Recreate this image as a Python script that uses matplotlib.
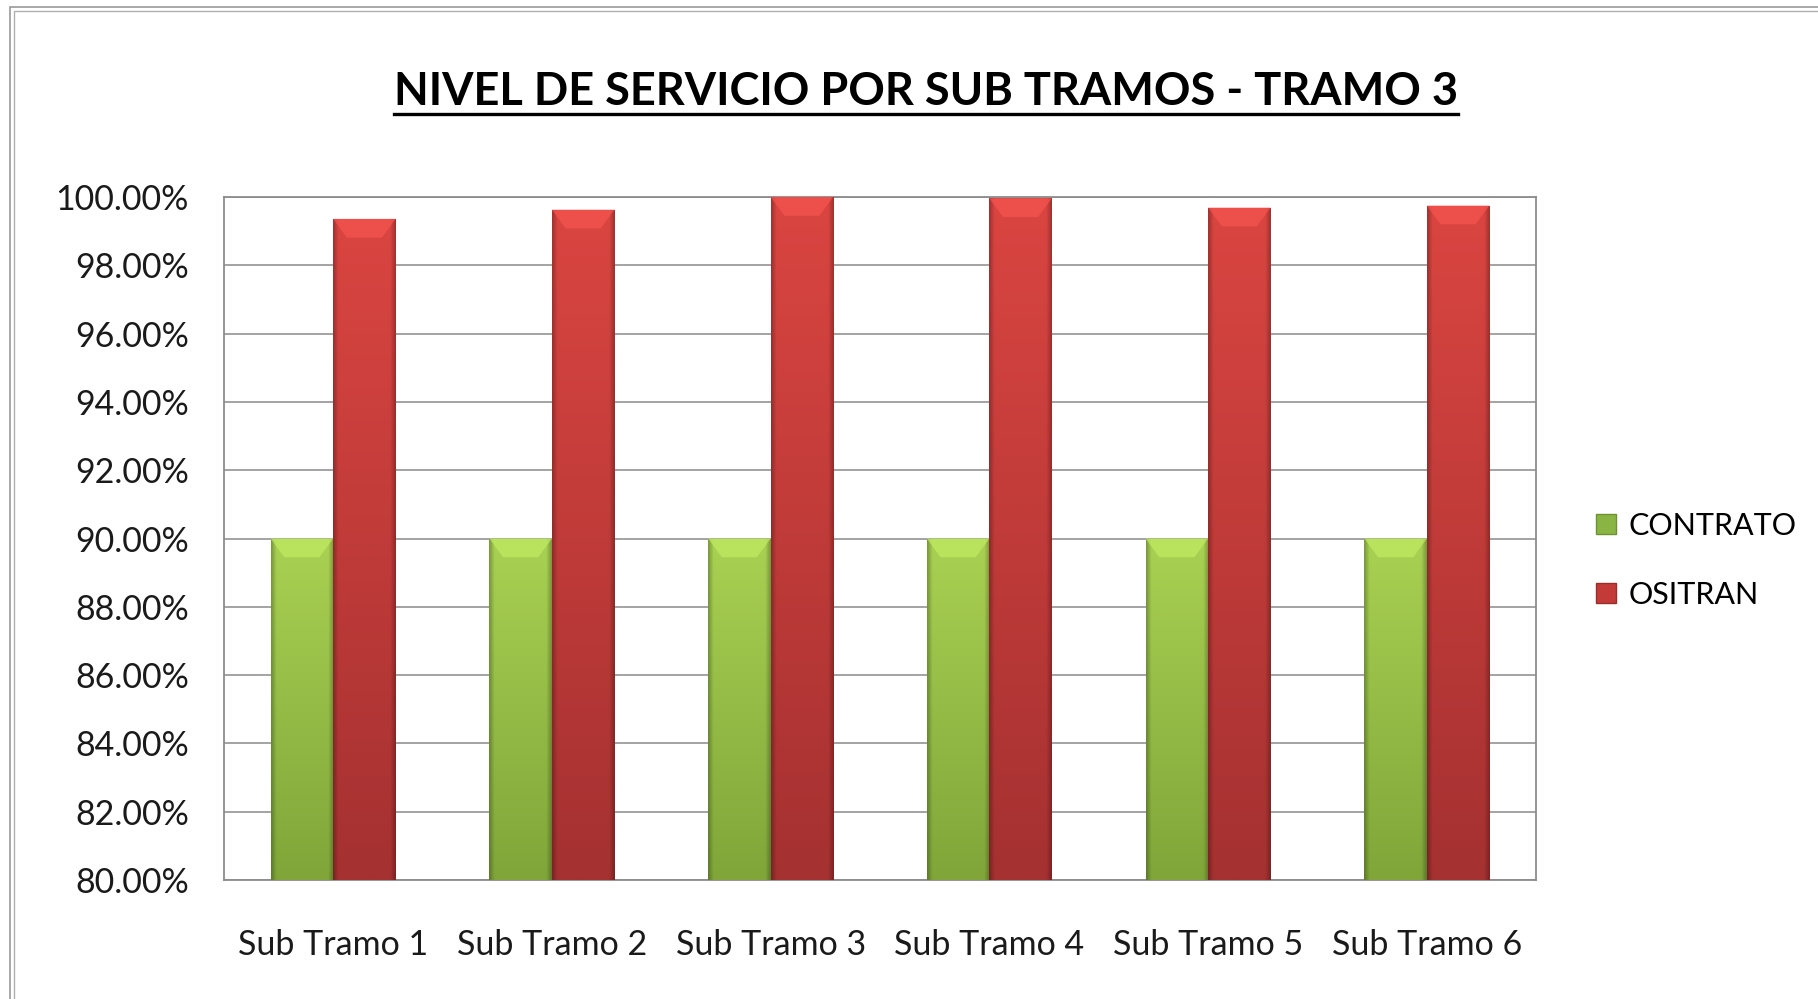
import numpy as np
import matplotlib
matplotlib.use('Agg')
import matplotlib.pyplot as plt
from matplotlib.patches import Rectangle, Polygon
from matplotlib.lines import Line2D
from matplotlib.colors import to_rgb
from matplotlib.ticker import FuncFormatter

# datos
categorias = ['Sub Tramo 1', 'Sub Tramo 2', 'Sub Tramo 3', 'Sub Tramo 4', 'Sub Tramo 5', 'Sub Tramo 6']
contrato = [0.90, 0.90, 0.90, 0.90, 0.90, 0.90]
ositran = [0.9936, 0.9963, 1.0000, 0.9996, 0.9969, 0.9975]
y_ticks = [0.80, 0.82, 0.84, 0.86, 0.88, 0.90, 0.92, 0.94, 0.96, 0.98, 1.00]

plt.rcParams['font.family'] = ['Lato', 'DejaVu Sans']

fig = plt.figure(figsize=(18.18, 9.99), dpi=100)
ax = fig.add_axes([0.1231, 0.1191, 0.7219, 0.6837])

ymin, ymax = 0.80, 1.00
w = 1 / 3.5
x = np.arange(len(categorias))

verde_top, verde_bot = '#a9d152', '#80a63a'
rojo_top, rojo_bot = '#da4541', '#a53131'

b1 = ax.bar(x - w/2, contrato, w, color=verde_top, zorder=2)
b2 = ax.bar(x + w/2, ositran, w, color=rojo_top, zorder=2)


def sombrear(bars, ctop, cbot):
    ct = np.array(to_rgb(ctop))
    cb = np.array(to_rgb(cbot))
    for p in bars:
        x0, w0, h = p.get_x(), p.get_width(), p.get_height()
        top = h
        t = np.linspace(0, 1, 60)[:, None]          # vertical (0=arriba)
        s = np.linspace(0, 1, 40)[None, :]          # horizontal
        col = ct[None, None, :] * (1 - t[..., None]) + cb[None, None, :] * t[..., None]
        edge = np.clip(np.minimum(s, 1 - s) / 0.08, 0, 1)
        fac = 0.75 + 0.25 * edge
        img = np.clip(col * fac[..., None], 0, 1)
        im = ax.imshow(img, extent=[x0, x0 + w0, ymin, top], aspect='auto',
                       interpolation='bilinear', zorder=3)
        im.set_clip_path(p)
        # bisel superior
        bh = 0.0055
        luz = np.clip(ct * 1.08 + 0.04, 0, 1)
        poly = Polygon([[x0, top], [x0 + w0, top], [x0 + w0 * 0.78, top - bh], [x0 + w0 * 0.22, top - bh]],
                       closed=True, facecolor=luz, edgecolor='none', zorder=4, alpha=0.7)
        ax.add_patch(poly)


sombrear(b1, verde_top, verde_bot)
sombrear(b2, rojo_top, rojo_bot)

ax.set_xlim(-0.5, len(categorias) - 0.5)
ax.set_ylim(ymin, ymax)
ax.set_yticks(y_ticks)
ax.yaxis.set_major_formatter(FuncFormatter(lambda v, p: '%.2f%%' % (v * 100)))
ax.set_xticks(x)
ax.set_xticklabels(categorias)
ax.tick_params(axis='y', length=0, pad=25, labelsize=24.5, colors='#1a1a1a')
ax.tick_params(axis='x', length=0, pad=35, labelsize=24.5, colors='#1a1a1a')
ax.grid(axis='y', color='#8a8a8a', linewidth=1.1, zorder=1)
ax.set_axisbelow(True)
for s in ax.spines.values():
    s.set_color('#8c8c8c')
    s.set_linewidth(1.3)

# titulo subrayado
tit = fig.text(0.5094, 0.908, 'NIVEL DE SERVICIO POR SUB TRAMOS - TRAMO 3', ha='center', va='center',
               fontsize=32.5, fontweight='bold', color='black')
fig.canvas.draw()
bb = tit.get_window_extent().transformed(fig.transFigure.inverted())
fig.add_artist(Line2D([bb.x0, bb.x1], [0.886, 0.886], color='black', linewidth=2.4, transform=fig.transFigure))

# leyenda
h1 = Line2D([], [], marker='s', linestyle='none', markersize=14, markerfacecolor='#8ab544', markeredgecolor='#6e9230')
h2 = Line2D([], [], marker='s', linestyle='none', markersize=14, markerfacecolor='#c23b38', markeredgecolor='#9a2c2a')
fig.legend([h1, h2], ['CONTRATO', 'OSITRAN'], loc='center left', bbox_to_anchor=(0.8615, 0.439),
           frameon=False, fontsize=22, handlelength=0.8, handletextpad=0.35, labelspacing=1.35)

# borde del grafico
fig.add_artist(Rectangle((0.0055, -0.5), 2, 1.4925, transform=fig.transFigure, fill=False,
                         edgecolor='#9a9a9a', linewidth=1.2))
fig.add_artist(Rectangle((0.0078, -0.5), 2, 1.4885, transform=fig.transFigure, fill=False,
                         edgecolor='#b0b0b0', linewidth=1.0))

fig.savefig('out.png', dpi=100)
